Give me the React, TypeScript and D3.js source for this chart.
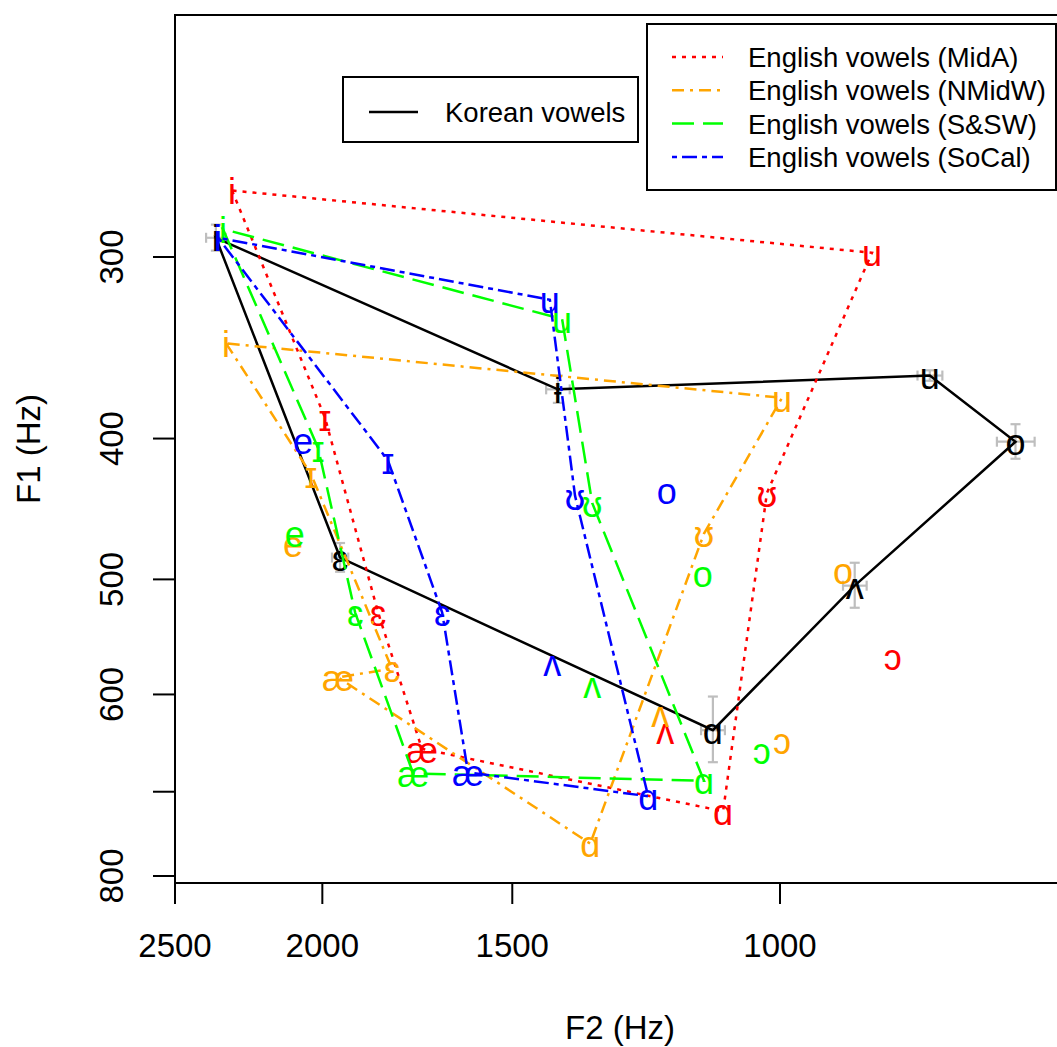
import React from "react";
import * as d3 from "d3";

const W = 1057;
const H = 1047;

const F2_TICKS = [2500, 2000, 1500, 1000];
const F1_TICKS = [300, 400, 500, 600, 700, 800];
const F1_TICK_LABELS = ["300", "400", "500", "600", "", "800"];

// Korean vowels (polygon order)
const koreanVowels = ["i", "ɨ", "u", "o", "ʌ", "ɑ", "ɛ"];
const koreanF1 = [291, 370, 362, 402, 505, 635, 483];
const koreanF2 = [2350, 1400, 797, 700, 893, 1107, 1947];
const koreanF1Err = [6, 8, 3, 11, 18, 33, 11];
const koreanF2Err = [35, 25, 15, 20, 16, 20, 24];

// English vowels: first seven form the polygon
const englishVowels = ["i", "ɪ", "ɛ", "æ", "ɑ", "ʊ", "u", "e", "o", "ʌ", "ɔ"];
const POLY_N = 7;

const midaF1 = [270, 387, 527, 654, 722, 436, 298, null, null, 635, 565];
const midaF2 = [2293, 1992, 1838, 1720, 1090, 1020, 870, null, null, 1190, 843];
const nmidwF1 = [344, 423, 576, 584, 760, 465, 375, 472, 493, 618, 645];
const nmidwF2 = [2314, 2035, 1800, 1953, 1333, 1122, 997, 2091, 909, 1199, 997];
const sswF1 = [287, 406, 527, 680, 688, 443, 331, 465, 495, 590, 656];
const sswF2 = [2325, 2013, 1903, 1743, 1122, 1329, 1391, 2085, 1124, 1329, 1028];
const socalF1 = [291, 414, 527, 679, 705, 438, 321, 401, 434, 570, null];
const socalF2 = [2342, 1811, 1668, 1604, 1221, 1364, 1417, 2059, 1187, 1412, null];

const seriesNames = [
  "English vowels (MidA)",
  "English vowels (NMidW)",
  "English vowels (S&SW)",
  "English vowels (SoCal)",
];
const seriesColors = ["#FF0000", "#FFA500", "#00FF00", "#0000FF"];
const seriesDashes = ["4,6", "12,6,3,6", "22,9", "5,5,15,5"];
const seriesF1 = [midaF1, nmidwF1, sswF1, socalF1];
const seriesF2 = [midaF2, nmidwF2, sswF2, socalF2];

const FONT = "'Liberation Sans', Arial, Helvetica, sans-serif";

export default function App() {
  const x = d3.scaleLog().domain([2500, 1000]).range([175, 780]);
  const y = d3.scaleLog().domain([300, 800]).range([257, 876]);

  const plotLeft = 175;
  const plotTop = 15;
  const plotBottom = 883;
  const plotRight = 1062;

  const line = d3
    .line<[number, number]>()
    .x((d) => x(d[0]))
    .y((d) => y(d[1]))
    .curve(d3.curveLinearClosed);

  const labelSize = 36;
  const labelDy = "0.38em";

  const korPts: [number, number][] = koreanF2.map((f2, i) => [f2, koreanF1[i]]);

  return (
    <svg
      width={W}
      height={H}
      style={{ position: "absolute", left: 0, top: 0, background: "#fff" }}
      fontFamily={FONT}
    >
      <rect x={0} y={0} width={W} height={H} fill="#fff" />

      {/* Korean error bars */}
      <g stroke="#BEBEBE" strokeWidth={2.2} fill="none">
        {koreanF2.map((f2, i) => {
          const cx = x(f2);
          const cy = y(koreanF1[i]);
          const x1 = x(f2 + koreanF2Err[i]);
          const x2 = x(f2 - koreanF2Err[i]);
          const y1 = y(koreanF1[i] - koreanF1Err[i]);
          const y2 = y(koreanF1[i] + koreanF1Err[i]);
          const c = 5;
          return (
            <g key={i}>
              <line x1={x1} x2={x2} y1={cy} y2={cy} />
              <line x1={x1} x2={x1} y1={cy - c} y2={cy + c} />
              <line x1={x2} x2={x2} y1={cy - c} y2={cy + c} />
              <line x1={cx} x2={cx} y1={y1} y2={y2} />
              <line x1={cx - c} x2={cx + c} y1={y1} y2={y1} />
              <line x1={cx - c} x2={cx + c} y1={y2} y2={y2} />
            </g>
          );
        })}
      </g>

      {/* Korean polygon */}
      <path d={line(korPts) || ""} fill="none" stroke="#000" strokeWidth={2.5} />
      {koreanVowels.map((v, i) => (
        <text
          key={"k" + i}
          x={x(koreanF2[i])}
          y={y(koreanF1[i])}
          dy={labelDy}
          textAnchor="middle"
          fontSize={labelSize}
          fill="#000"
        >
          {v}
        </text>
      ))}

      {/* English series */}
      {seriesNames.map((name, s) => {
        const f1 = seriesF1[s];
        const f2 = seriesF2[s];
        const pts: [number, number][] = [];
        for (let i = 0; i < POLY_N; i++) pts.push([f2[i] as number, f1[i] as number]);
        return (
          <g key={name}>
            <path
              d={line(pts) || ""}
              fill="none"
              stroke={seriesColors[s]}
              strokeWidth={2.5}
              strokeDasharray={seriesDashes[s]}
            />
            {englishVowels.map((v, i) =>
              f1[i] == null || f2[i] == null ? null : (
                <text
                  key={i}
                  x={x(f2[i] as number)}
                  y={y(f1[i] as number)}
                  dy={labelDy}
                  textAnchor="middle"
                  fontSize={labelSize}
                  fill={seriesColors[s]}
                >
                  {v}
                </text>
              )
            )}
          </g>
        );
      })}

      {/* Plot box */}
      <path
        d={`M${plotRight},${plotTop}H${plotLeft}V${plotBottom}H${plotRight}`}
        fill="none"
        stroke="#000"
        strokeWidth={2}
      />

      {/* X axis */}
      <g>
        {F2_TICKS.map((t) => (
          <g key={t}>
            <line x1={x(t)} x2={x(t)} y1={plotBottom} y2={plotBottom + 21} stroke="#000" strokeWidth={2} />
            <text x={x(t)} y={957} textAnchor="middle" fontSize={33} fill="#000">
              {t}
            </text>
          </g>
        ))}
        <text x={620} y={1039} textAnchor="middle" fontSize={33} fill="#000">
          F2 (Hz)
        </text>
      </g>

      {/* Y axis */}
      <g>
        {F1_TICKS.map((t, i) => (
          <g key={t}>
            <line x1={plotLeft - 22} x2={plotLeft} y1={y(t)} y2={y(t)} stroke="#000" strokeWidth={2} />
            {F1_TICK_LABELS[i] ? (
              <text
                transform={`translate(123,${y(t)}) rotate(-90)`}
                textAnchor="middle"
                fontSize={33}
                fill="#000"
              >
                {F1_TICK_LABELS[i]}
              </text>
            ) : null}
          </g>
        ))}
        <text transform={`translate(40,449) rotate(-90)`} textAnchor="middle" fontSize={33} fill="#000">
          F1 (Hz)
        </text>
      </g>

      {/* Korean legend */}
      <g>
        <rect x={343} y={77} width={295} height={65} fill="#fff" stroke="#000" strokeWidth={2} />
        <line x1={369} x2={418} y1={112} y2={112} stroke="#000" strokeWidth={2.5} />
        <text x={445} y={122} fontSize={27.5} fill="#000">
          Korean vowels
        </text>
      </g>

      {/* English legend */}
      <g>
        <rect x={647} y={24} width={409} height={166} fill="#fff" stroke="#000" strokeWidth={2} />
        {seriesNames.map((name, s) => {
          const ly = 57 + s * 33.3;
          return (
            <g key={name}>
              <line
                x1={672}
                x2={723}
                y1={ly}
                y2={ly}
                stroke={seriesColors[s]}
                strokeWidth={2.5}
                strokeDasharray={seriesDashes[s]}
              />
              <text x={748} y={ly + 10} fontSize={27.5} fill="#000">
                {name}
              </text>
            </g>
          );
        })}
      </g>
    </svg>
  );
}
